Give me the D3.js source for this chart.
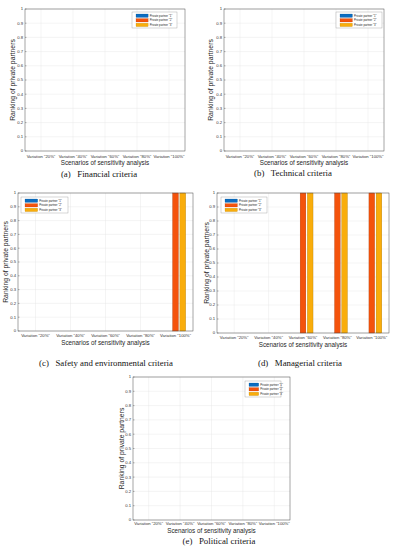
<!DOCTYPE html>
<html>
<head>
<meta charset="utf-8">
<title>Ranking of private partners - sensitivity analysis</title>
<script src="https://cdn.jsdelivr.net/npm/d3@7"></script>
<style>
    body { margin: 0; background: #fff; }
    svg { display: block; }
    .tick-label { font-family: "Liberation Sans", Arial, sans-serif; font-size: 4.2px; fill: #333; }
    .axis-title { font-family: "Liberation Sans", Arial, sans-serif; font-size: 6.3px; fill: #262626; }
    .caption { font-family: "Liberation Serif", "Times New Roman", serif; font-size: 8.8px; fill: #111; }
    .legend-text { font-family: "Liberation Sans", Arial, sans-serif; font-size: 2.8px; fill: #222; }
</style>
</head>
<body>
<div id="vis"></div>
<script>
    var width = 393, height = 550;

    // data
    var categories = ['Variation "20%"', 'Variation "40%"', 'Variation "60%"', 'Variation "80%"', 'Variation "100%"'];
    var series = ['Private partner "1"', 'Private partner "2"', 'Private partner "3"'];
    var yTicks = [0, 0.1, 0.2, 0.3, 0.4, 0.5, 0.6, 0.7, 0.8, 0.9, 1];

    var financial = [[0, 0, 0, 0, 0], [0, 0, 0, 0, 0], [0, 0, 0, 0, 0]];
    var technical = [[0, 0, 0, 0, 0], [0, 0, 0, 0, 0], [0, 0, 0, 0, 0]];
    var safety = [[0, 0, 0, 0, 0], [0, 0, 0, 0, 1], [0, 0, 0, 0, 1]];
    var managerial = [[0, 0, 0, 0, 0], [0, 0, 1, 1, 1], [0, 0, 1, 1, 1]];
    var political = [[0, 0, 0, 0, 0], [0, 0, 0, 0, 0], [0, 0, 0, 0, 0]];

    var captions = ["(a)   Financial criteria", "(b)   Technical criteria",
        "(c)   Safety and environmental criteria", "(d)   Managerial criteria", "(e)   Political criteria"];

    var color = ["#0b6cc0", "#f4530c", "#f9ad0b"];

    // layout of the five sub-figures
    var panels = [
        {values: financial, box: [25, 9, 185, 151], legend: [132, 12, 45], ylab: 13, xlab: 157.5, xtitle: 165.3, cap: [99, 176.5]},
        {values: technical, box: [224, 9, 384, 151], legend: [336, 12, 46], ylab: 211, xlab: 157.5, xtitle: 165.3, cap: [293, 176]},
        {values: safety, box: [18, 193, 193, 331], legend: [21, 197, 47], ylab: 6, xlab: 337, xtitle: 345.3, cap: [106, 366]},
        {values: managerial, box: [217, 193, 389, 333], legend: [221, 197, 46], ylab: 207, xlab: 338.5, xtitle: 347, cap: [300, 366]},
        {values: political, box: [133, 377, 290, 520], legend: [245, 381, 36], ylab: 122, xlab: 524.8, xtitle: 533.3, cap: [219, 544]}
    ];

    var svg = d3.select("#vis").append("svg")
            .attr("width", width)
            .attr("height", height);

    panels.forEach(function(p, k) {
        var x0 = p.box[0], y0 = p.box[1], x1 = p.box[2], y1 = p.box[3];
        var g = svg.append("g");

        var x = d3.scaleBand().domain(categories).range([x0, x1]);
        var y = d3.scaleLinear().domain([0, 1]).range([y1, y0]);
        var gw = x.bandwidth() * 2 / 3;
        var xs = d3.scaleBand().domain(d3.range(series.length)).range([-gw / 2, gw / 2]).padding(0.2);

        // grid
        g.selectAll(".gy").data(yTicks).enter().append("line")
                .attr("x1", x0).attr("x2", x1)
                .attr("y1", function(d) { return y(d); })
                .attr("y2", function(d) { return y(d); })
                .attr("stroke", "#e3e3e3").attr("stroke-width", 0.4);
        g.selectAll(".gx").data(categories).enter().append("line")
                .attr("x1", function(d) { return x(d) + x.bandwidth() / 2; })
                .attr("x2", function(d) { return x(d) + x.bandwidth() / 2; })
                .attr("y1", y0).attr("y2", y1)
                .attr("stroke", "#e3e3e3").attr("stroke-width", 0.4);

        // bars
        p.values.forEach(function(vals, s) {
            g.selectAll(".bar" + s).data(vals).enter().append("rect")
                    .attr("x", function(d, i) { return x(categories[i]) + x.bandwidth() / 2 + xs(s); })
                    .attr("width", xs.bandwidth())
                    .attr("y", function(d) { return y(d); })
                    .attr("height", function(d) { return y1 - y(d); })
                    .attr("fill", color[s])
                    .attr("stroke", d3.color(color[s]).darker(1.2))
                    .attr("stroke-width", 0.3);
        });

        // axes box and ticks
        g.append("rect")
                .attr("x", x0).attr("y", y0)
                .attr("width", x1 - x0).attr("height", y1 - y0)
                .attr("fill", "none").attr("stroke", "#4d4d4d").attr("stroke-width", 0.5);
        g.selectAll(".ty").data(yTicks).enter().append("line")
                .attr("x1", x0).attr("x2", x0 + 1.5)
                .attr("y1", function(d) { return y(d); })
                .attr("y2", function(d) { return y(d); })
                .attr("stroke", "#4d4d4d").attr("stroke-width", 0.4);

        g.selectAll(".ly").data(yTicks).enter().append("text")
                .attr("class", "tick-label")
                .attr("x", x0 - 2)
                .attr("y", function(d) { return y(d) + 1.4; })
                .attr("text-anchor", "end")
                .text(function(d) { return d3.format("~g")(d); });
        g.selectAll(".lx").data(categories).enter().append("text")
                .attr("class", "tick-label")
                .attr("x", function(d) { return x(d) + x.bandwidth() / 2; })
                .attr("y", p.xlab)
                .attr("text-anchor", "middle")
                .text(function(d) { return d; });

        g.append("text")
                .attr("class", "axis-title")
                .attr("x", (x0 + x1) / 2).attr("y", p.xtitle)
                .attr("text-anchor", "middle")
                .text("Scenarios of sensitivity analysis");
        g.append("text")
                .attr("class", "axis-title")
                .style("font-size", "6.8px")
                .attr("transform", "translate(" + (p.ylab + 2.3) + "," + ((y0 + y1) / 2) + ") rotate(-90)")
                .attr("text-anchor", "middle")
                .text("Ranking of private partners");

        // legend
        var lx = p.legend[0], ly = p.legend[1], lw = p.legend[2];
        g.append("rect")
                .attr("x", lx).attr("y", ly)
                .attr("width", lw).attr("height", 16)
                .attr("fill", "#fff").attr("stroke", "#9a9a9a").attr("stroke-width", 0.4);
        series.forEach(function(name, s) {
            g.append("rect")
                    .attr("x", lx + 4).attr("y", ly + 2 + s * 4.6)
                    .attr("width", lw * 0.27).attr("height", 3.4)
                    .attr("fill", color[s])
                    .attr("stroke", d3.color(color[s]).darker(1.2)).attr("stroke-width", 0.2);
            g.append("text")
                    .attr("class", "legend-text")
                    .attr("x", lx + 5.5 + lw * 0.27).attr("y", ly + 4.7 + s * 4.6)
                    .text(name);
        });

        // caption
        svg.append("text")
                .attr("class", "caption")
                .attr("x", p.cap[0]).attr("y", p.cap[1])
                .attr("text-anchor", "middle")
                .attr("xml:space", "preserve")
                .style("white-space", "pre")
                .text(captions[k]);
    });
</script>
</body>
</html>
